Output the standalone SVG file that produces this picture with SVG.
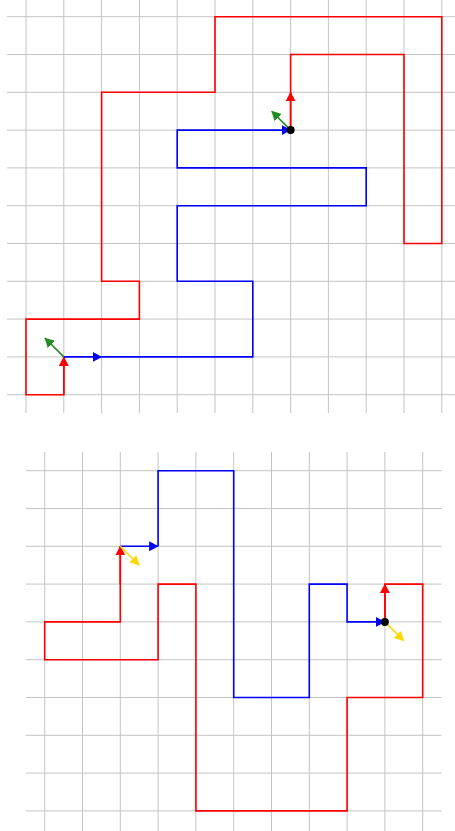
<svg xmlns="http://www.w3.org/2000/svg" width="455" height="831" viewBox="0 0 455 831">
<style>
.grid line{stroke:#c4c4c4;stroke-width:1}
.r{stroke:#ff0000;fill:none;stroke-width:1.6}
.b{stroke:#0000ff;fill:none;stroke-width:1.6}
.g{stroke:#228b22;fill:none;stroke-width:1.6}
.y{stroke:#ffd700;fill:none;stroke-width:1.6}
</style>
<defs>
<marker id="ar" markerUnits="userSpaceOnUse" markerWidth="10" markerHeight="10" refX="9" refY="5" orient="auto"><path d="M0,0 L9.5,5 L0,10 Z" fill="#ff0000"/></marker>
<marker id="ab" markerUnits="userSpaceOnUse" markerWidth="10" markerHeight="10" refX="9" refY="5" orient="auto"><path d="M0,0 L9.5,5 L0,10 Z" fill="#0000ff"/></marker>
<marker id="ag" markerUnits="userSpaceOnUse" markerWidth="10" markerHeight="10" refX="9" refY="5" orient="auto"><path d="M0,0 L9.5,5 L0,10 Z" fill="#228b22"/></marker>
<marker id="ay" markerUnits="userSpaceOnUse" markerWidth="10" markerHeight="10" refX="9" refY="5" orient="auto"><path d="M0,0 L9.5,5 L0,10 Z" fill="#ffd700"/></marker>
</defs>
<rect width="455" height="831" fill="#ffffff"/>
<g id="grid-top" class="grid">
<line x1="26" y1="0" x2="26" y2="413"/>
<line x1="63.8" y1="0" x2="63.8" y2="413"/>
<line x1="101.6" y1="0" x2="101.6" y2="413"/>
<line x1="139.4" y1="0" x2="139.4" y2="413"/>
<line x1="177.2" y1="0" x2="177.2" y2="413"/>
<line x1="215" y1="0" x2="215" y2="413"/>
<line x1="252.8" y1="0" x2="252.8" y2="413"/>
<line x1="290.6" y1="0" x2="290.6" y2="413"/>
<line x1="328.4" y1="0" x2="328.4" y2="413"/>
<line x1="366.2" y1="0" x2="366.2" y2="413"/>
<line x1="404" y1="0" x2="404" y2="413"/>
<line x1="441.8" y1="0" x2="441.8" y2="413"/>
<line x1="7" y1="16.7" x2="455" y2="16.7"/>
<line x1="7" y1="54.5" x2="455" y2="54.5"/>
<line x1="7" y1="92.3" x2="455" y2="92.3"/>
<line x1="7" y1="130.1" x2="455" y2="130.1"/>
<line x1="7" y1="167.9" x2="455" y2="167.9"/>
<line x1="7" y1="205.7" x2="455" y2="205.7"/>
<line x1="7" y1="243.5" x2="455" y2="243.5"/>
<line x1="7" y1="281.3" x2="455" y2="281.3"/>
<line x1="7" y1="319.1" x2="455" y2="319.1"/>
<line x1="7" y1="356.9" x2="455" y2="356.9"/>
<line x1="7" y1="394.7" x2="455" y2="394.7"/>
</g>
<g id="grid-bottom" class="grid">
<line x1="44.7" y1="452" x2="44.7" y2="831"/>
<line x1="82.5" y1="452" x2="82.5" y2="831"/>
<line x1="120.3" y1="452" x2="120.3" y2="831"/>
<line x1="158.1" y1="452" x2="158.1" y2="831"/>
<line x1="195.9" y1="452" x2="195.9" y2="831"/>
<line x1="233.7" y1="452" x2="233.7" y2="831"/>
<line x1="271.5" y1="452" x2="271.5" y2="831"/>
<line x1="309.3" y1="452" x2="309.3" y2="831"/>
<line x1="347.1" y1="452" x2="347.1" y2="831"/>
<line x1="384.9" y1="452" x2="384.9" y2="831"/>
<line x1="422.7" y1="452" x2="422.7" y2="831"/>
<line x1="26" y1="470.7" x2="441.6" y2="470.7"/>
<line x1="26" y1="508.5" x2="441.6" y2="508.5"/>
<line x1="26" y1="546.3" x2="441.6" y2="546.3"/>
<line x1="26" y1="584.1" x2="441.6" y2="584.1"/>
<line x1="26" y1="621.9" x2="441.6" y2="621.9"/>
<line x1="26" y1="659.7" x2="441.6" y2="659.7"/>
<line x1="26" y1="697.5" x2="441.6" y2="697.5"/>
<line x1="26" y1="735.3" x2="441.6" y2="735.3"/>
<line x1="26" y1="773.1" x2="441.6" y2="773.1"/>
<line x1="26" y1="810.9" x2="441.6" y2="810.9"/>
</g>
<g id="paths">
<polyline id="red-top" class="r" points="63.8,356.9 63.8,394.7 26,394.7 26,319.1 139.4,319.1 139.4,281.3 101.6,281.3 101.6,92.3 215,92.3 215,16.7 441.8,16.7 441.8,243.5 404,243.5 404,54.5 290.6,54.5 290.6,130.1"/>
<polyline id="blue-top" class="b" marker-end="url(#ab)" points="101.6,356.9 252.8,356.9 252.8,281.3 177.2,281.3 177.2,205.7 366.2,205.7 366.2,167.9 177.2,167.9 177.2,130.1 290.6,130.1"/>
<polyline id="red-bottom" class="r" points="120.3,546.3 120.3,621.9 44.7,621.9 44.7,659.7 158.1,659.7 158.1,584.1 195.9,584.1 195.9,810.9 347.1,810.9 347.1,697.5 422.7,697.5 422.7,584.1 384.9,584.1 384.9,621.9"/>
<polyline id="blue-bottom" class="b" marker-end="url(#ab)" points="158.1,546.3 158.1,470.7 233.7,470.7 233.7,697.5 309.3,697.5 309.3,584.1 347.1,584.1 347.1,621.9 384.9,621.9"/>
</g>
<g id="arrows">
<line class="r" marker-end="url(#ar)" x1="63.8" y1="394.7" x2="63.8" y2="356.9"/>
<line class="b" marker-end="url(#ab)" x1="63.8" y1="356.9" x2="101.6" y2="356.9"/>
<line class="g" marker-end="url(#ag)" x1="63.8" y1="356.9" x2="44.9" y2="338"/>
<line class="r" marker-end="url(#ar)" x1="290.6" y1="130.1" x2="290.6" y2="92.3"/>
<line class="g" marker-end="url(#ag)" x1="290.6" y1="130.1" x2="271.7" y2="111.2"/>
<line class="r" marker-end="url(#ar)" x1="120.3" y1="584.1" x2="120.3" y2="546.3"/>
<line class="b" marker-end="url(#ab)" x1="120.3" y1="546.3" x2="158.1" y2="546.3"/>
<line class="y" marker-end="url(#ay)" x1="120.3" y1="546.3" x2="139.2" y2="565.2"/>
<line class="r" marker-end="url(#ar)" x1="384.9" y1="621.9" x2="384.9" y2="584.1"/>
<line class="y" marker-end="url(#ay)" x1="384.9" y1="621.9" x2="403.8" y2="640.8"/>
</g>
<g id="dots">
<circle cx="290.6" cy="130.1" r="4" fill="#000000"/>
<circle cx="384.9" cy="621.9" r="4" fill="#000000"/>
</g>
</svg>
